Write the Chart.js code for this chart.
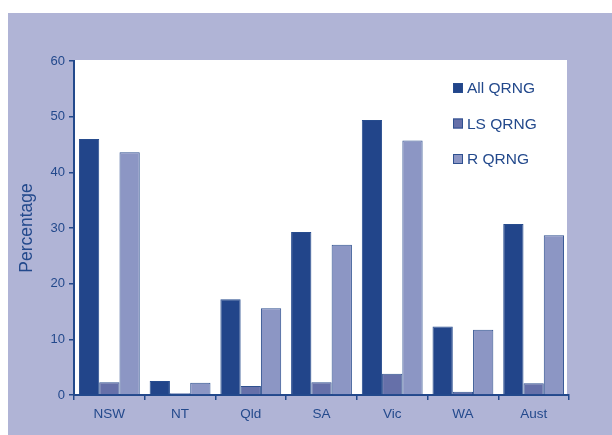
<!DOCTYPE html>
<html>
<head>
<meta charset="utf-8">
<script src="https://cdn.jsdelivr.net/npm/chart.js@4"></script>
<style>
  body { margin: 0; background: #ffffff; }
  #panel { position: absolute; left: 8px; top: 13px; width: 604px; height: 422px; background: #b0b4d6; }
</style>
</head>
<body>
<div id="panel"><canvas id="myChart" width="604" height="422"></canvas></div>
<script>
    // Datos del gráfico
    const estados = ['NSW', 'NT', 'Qld', 'SA', 'Vic', 'WA', 'Aust'];
    const allQRNG = [46.0, 2.5, 17.2, 29.3, 49.4, 12.3, 30.7];
    const lsQRNG = [2.3, 0.3, 1.6, 2.3, 3.8, 0.6, 2.1];
    const rQRNG = [43.6, 2.2, 15.6, 27.0, 45.7, 11.7, 28.7];
    const ticksY = [0, 10, 20, 30, 40, 50, 60];

    const azul = '#23498c';
    const fuente = '"Liberation Sans", Arial, sans-serif';

    // Fondo blanco del area del grafico
    const fondoBlanco = {
        id: 'fondoBlanco',
        beforeDraw(chart) {
            const a = chart.chartArea;
            const ctx = chart.ctx;
            ctx.save();
            ctx.fillStyle = '#ffffff';
            ctx.fillRect(a.left + 1, a.top - 1, a.right - a.left - 3, a.bottom - a.top + 1);
            ctx.restore();
        }
    };

    // Leyenda dentro del area, arriba a la derecha
    const leyenda = {
        id: 'leyenda',
        afterDraw(chart) {
            const a = chart.chartArea;
            const ctx = chart.ctx;
            ctx.save();
            ctx.font = '15.5px ' + fuente;
            ctx.textBaseline = 'middle';
            chart.data.datasets.forEach((ds, i) => {
                const x = a.right - 116;
                const y = a.top + 27 + i * 35.5;
                ctx.fillStyle = ds.backgroundColor;
                ctx.fillRect(x, y - 5, 10, 10);
                ctx.strokeStyle = ds.borderColor;
                ctx.lineWidth = 1;
                ctx.strokeRect(x + 0.5, y - 4.5, 9, 9);
                ctx.fillStyle = azul;
                ctx.fillText(ds.label, x + 14, y + 1);
            });
            ctx.restore();
        }
    };

    const ctx = document.getElementById('myChart').getContext('2d');
    const myChart = new Chart(ctx, {
        type: 'bar',
        data: {
            labels: estados,
            datasets: [
                { label: 'All QRNG', data: allQRNG, backgroundColor: '#22458a', borderColor: '#274c8e', borderWidth: 1 },
                { label: 'LS QRNG', data: lsQRNG, backgroundColor: '#6670a9', borderColor: '#2f5190', borderWidth: 1 },
                { label: 'R QRNG', data: rQRNG, backgroundColor: '#8c96c4', borderColor: '#2f5190', borderWidth: 1 }
            ]
        },
        options: {
            responsive: false,
            animation: false,
            layout: { padding: { top: 48, right: 43, left: 4, bottom: 0 } },
            plugins: { legend: { display: false }, tooltip: { enabled: false } },
            datasets: { bar: { categoryPercentage: 0.86, barPercentage: 1 } },
            scales: {
                x: {
                    grid: { offset: true, drawOnChartArea: false, color: azul, tickLength: 5, lineWidth: 1.5 },
                    border: { color: azul, width: 2 },
                    ticks: { color: azul, font: { family: fuente, size: 13.5 }, padding: 6 },
                    afterFit(scale) { scale.height = 40; }
                },
                y: {
                    min: 0,
                    max: 60,
                    afterBuildTicks(scale) { scale.ticks = ticksY.map(v => ({ value: v })); },
                    grid: { drawOnChartArea: false, color: azul, tickLength: 5, lineWidth: 1.5 },
                    border: { color: azul, width: 2 },
                    ticks: { color: azul, font: { family: fuente, size: 13 }, padding: 4 },
                    title: { display: true, text: 'Percentage', color: azul, font: { family: fuente, size: 17.5 }, padding: { top: 5, bottom: 0 } },
                    afterFit(scale) { scale.width = 62; }
                }
            }
        },
        plugins: [fondoBlanco, leyenda]
    });
</script>
</body>
</html>
